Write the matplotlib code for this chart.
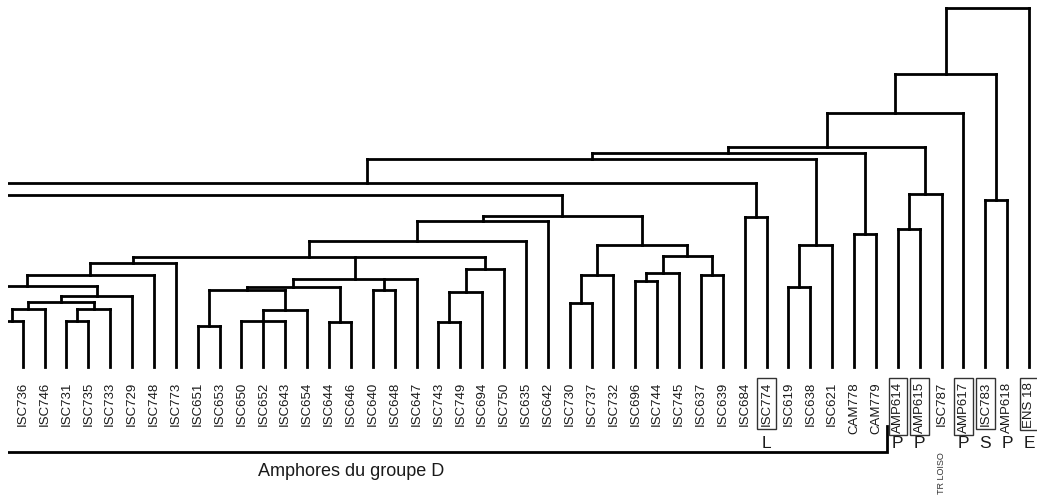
import matplotlib.pyplot as plt

plt.rcParams["font.family"] = ["Liberation Sans", "DejaVu Sans"]

# leaf order, left to right
labels = [
    "ISC736", "ISC746", "ISC731", "ISC735", "ISC733", "ISC729", "ISC748",
    "ISC773", "ISC651", "ISC653", "ISC650", "ISC652", "ISC643", "ISC654",
    "ISC644", "ISC646", "ISC640", "ISC648", "ISC647", "ISC743", "ISC749",
    "ISC694", "ISC750", "ISC635", "ISC642", "ISC730", "ISC737", "ISC732",
    "ISC696", "ISC744", "ISC745", "ISC637", "ISC639", "ISC684", "ISC774",
    "ISC619", "ISC638", "ISC621", "CAM778", "CAM779", "AMP614", "AMP615",
    "ISC787", "AMP617", "ISC783", "AMP618", "ENS 18",
]

# leaves cut off by the left edge of the figure (slot left of ISC736)
hidden = {"h1": -1, "h4": -2, "h2": -3, "h3": -28}

# merges: (node, children, height)
merges = [
    ("c1", ["h1", "ISC736"], 46),
    ("c2", ["c1", "ISC746"], 58),
    ("c3", ["ISC731", "ISC735"], 46),
    ("c4", ["c3", "ISC733"], 58),
    ("c5", ["c2", "c4"], 65),
    ("c6", ["c5", "ISC729"], 71),
    ("c7", ["h2", "c6"], 81),
    ("c8", ["c7", "ISC748"], 92),
    ("c9", ["c8", "ISC773"], 104),
    ("m1", ["ISC651", "ISC653"], 41),
    ("m2", ["ISC650", "ISC652", "ISC643"], 46),
    ("m3", ["m2", "ISC654"], 57),
    ("m4", ["m1", "m3"], 77),
    ("m5", ["ISC644", "ISC646"], 45),
    ("m6", ["m4", "m5"], 80),
    ("m7", ["ISC640", "ISC648"], 77),
    ("m8", ["m6", "m7", "ISC647"], 88),
    ("n1", ["ISC743", "ISC749"], 45),
    ("n2", ["n1", "ISC694"], 75),
    ("n3", ["n2", "ISC750"], 98),
    ("k1", ["c9", "m8", "n3"], 110),
    ("k2", ["k1", "ISC635"], 126),
    ("k3", ["k2", "ISC642"], 146),
    ("r1", ["ISC730", "ISC737"], 64),
    ("r2", ["r1", "ISC732"], 92),
    ("r3", ["ISC696", "ISC744"], 86),
    ("r4", ["r3", "ISC745"], 94),
    ("r5", ["ISC637", "ISC639"], 92),
    ("r6", ["r4", "r5"], 111),
    ("r7", ["r2", "r6"], 122),
    ("k4", ["k3", "r7"], 151),
    ("k5", ["h3", "k4"], 172),
    ("t1", ["ISC684", "ISC774"], 150),
    ("t2", ["h4", "t1"], 184),
    ("t3", ["ISC619", "ISC638"], 80),
    ("t4", ["t3", "ISC621"], 122),
    ("t5", ["t2", "t4"], 208),
    ("t6", ["CAM778", "CAM779"], 133),
    ("t7", ["t5", "t6"], 214),
    ("p1", ["AMP614", "AMP615"], 138),
    ("p2", ["p1", "ISC787"], 173),
    ("t8", ["t7", "p2"], 220),
    ("t9", ["t8", "AMP617"], 254),
    ("s1", ["ISC783", "AMP618"], 167),
    ("t10", ["t9", "s1"], 293),
    ("root", ["t10", "ENS 18"], 359),
]

boxed = ["ISC774", "AMP614", "AMP615", "AMP617", "ISC783", "ENS 18"]
codes = {"ISC774": "L", "AMP614": "P", "AMP615": "P", "AMP617": "P",
         "ISC783": "S", "AMP618": "P", "ENS 18": "E"}
group_d_last = "CAM779"
group_d_name = "Amphores du groupe D"
note_leaf = "ISC787"
note_text = "TR LOISO"

fig = plt.figure(figsize=(10.37, 5.02), dpi=100)
ax = fig.add_axes([8 / 1037, 0, 1029 / 1037, 1])
ax.axis("off")
ax.set_xlim(-0.672, len(labels) - 0.64)
ax.set_ylim(-134, 368)

lw = 2.0
kw = dict(color="black", lw=lw, solid_capstyle="projecting", solid_joinstyle="miter")

xpos = {name: i for i, name in enumerate(labels)}
xpos.update(hidden)
ypos = {name: 0 for name in xpos}

for node, kids, h in merges:
    xs = [xpos[k] for k in kids]
    for k in kids:
        ax.plot([xpos[k], xpos[k]], [ypos[k], h], **kw)
    ax.plot([min(xs), max(xs)], [h, h], **kw)
    xpos[node] = (xs[0] + xs[-1]) / 2
    ypos[node] = h

# leaf labels
for i, name in enumerate(labels):
    bbox = None
    if name in boxed:
        bbox = dict(boxstyle="square,pad=0.25", fc="white", ec="#333333", lw=1.0)
    ax.text(i, -14, name, rotation=90, ha="center", va="top",
            fontsize=9.5, color="#1a1a1a", bbox=bbox)
    if name in codes:
        ax.text(i, -76, codes[name], ha="center", va="center",
                fontsize=12.5, color="#1a1a1a")

# group D bracket
xd = labels.index(group_d_last) + 0.5
ax.plot([-1, xd, xd], [-85, -85, -59], color="black", lw=lw,
        solid_joinstyle="miter", clip_on=True)
ax.text(15, -104, group_d_name, ha="center", va="center",
        fontsize=13, color="#1a1a1a")

ax.text(labels.index(note_leaf), -84, note_text, rotation=90, ha="center",
        va="top", fontsize=6.5, color="#333333")

plt.savefig("out.png", dpi=100)
plt.close()
